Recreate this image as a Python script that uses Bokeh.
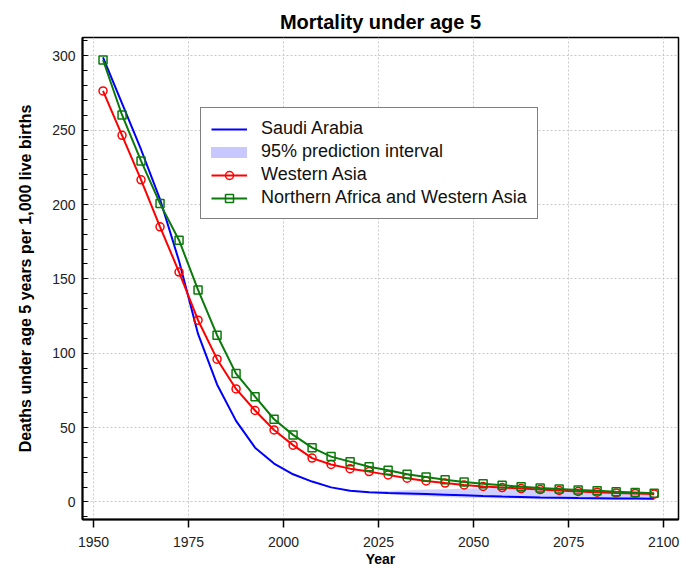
from bokeh.plotting import figure
from bokeh.models import (Range1d, SingleIntervalTicker, FixedTicker, Legend,
                          LegendItem)
from bokeh.embed import file_html
from bokeh.resources import INLINE

# ---------------- data ----------------
years = [1952.5, 1957.5, 1962.5, 1967.5, 1972.5, 1977.5, 1982.5, 1987.5,
         1992.5, 1997.5, 2002.5, 2007.5, 2012.5, 2017.5, 2022.5, 2027.5,
         2032.5, 2037.5, 2042.5, 2047.5, 2052.5, 2057.5, 2062.5, 2067.5,
         2072.5, 2077.5, 2082.5, 2087.5, 2092.5, 2097.5]

saudi_arabia = [299.0, 268.0, 237.0, 203.5, 162.0, 113.0, 79.0, 54.5,
                36.5, 25.8, 18.6, 13.7, 9.8, 7.6, 6.6, 6.1,
                5.7, 5.3, 4.9, 4.5, 4.0, 3.6, 3.3, 3.0,
                2.8, 2.6, 2.5, 2.4, 2.3, 2.2]

western_asia = [276.4, 246.5, 216.6, 185.0, 154.6, 122.2, 96.0, 76.0,
                61.5, 48.4, 38.2, 29.5, 25.2, 22.4, 20.4, 18.2,
                16.0, 14.1, 12.7, 11.4, 10.4, 9.7, 9.0, 8.3,
                7.7, 7.1, 6.6, 6.1, 5.7, 5.3]

n_africa_w_asia = [297.2, 260.2, 229.3, 200.6, 176.0, 142.6, 112.1, 86.3,
                   70.8, 55.6, 45.1, 36.5, 30.5, 27.1, 23.7, 21.3,
                   18.6, 16.8, 15.0, 13.4, 12.3, 11.3, 10.2, 9.3,
                   8.7, 8.1, 7.5, 6.8, 6.4, 5.8]

pi_years = [2022.5, 2027.5, 2032.5, 2037.5, 2042.5, 2047.5, 2052.5, 2057.5,
            2062.5, 2067.5, 2072.5, 2077.5, 2082.5, 2087.5, 2092.5, 2097.5]
pi_upper = [6.6, 7.3, 7.9, 8.3, 8.6, 9.0, 9.3, 9.3,
            9.0, 8.6, 8.2, 7.8, 7.3, 6.9, 6.5, 6.1]
pi_lower = [6.6, 5.2, 4.4, 3.8, 3.3, 2.9, 2.6, 2.3,
            2.1, 1.9, 1.8, 1.7, 1.6, 1.5, 1.4, 1.3]

x_ticks = [1950, 1975, 2000, 2025, 2050, 2075, 2100]

title_text = "Mortality under age 5"
x_label = "Year"
y_label = "Deaths under age 5 years per 1,000 live births"
labels = ["Saudi Arabia", "95% prediction interval", "Western Asia",
          "Northern Africa and Western Asia"]

FONT = "Liberation Sans"
X0, X1 = 1947.1, 2103.9

# ---------------- figure ----------------
p = figure(width=697, height=569, output_backend="svg", toolbar_location=None,
           x_range=Range1d(X0, X1), y_range=Range1d(-11.8, 312.3),
           min_border_left=82, min_border_right=19, min_border_top=37,
           min_border_bottom=50, title=title_text)

p.title.align = "center"
p.title.text_font = FONT
p.title.text_font_size = "20px"
p.title.text_font_style = "bold"
p.title.text_color = "black"
p.title.standoff = 9

p.outline_line_color = "black"
p.outline_line_width = 1.5
p.background_fill_color = "white"
p.border_fill_color = "white"

# axes
xa = p.xaxis[0]
xa.ticker = FixedTicker(ticks=x_ticks)
xa.major_tick_out = 8
xa.major_tick_in = 0
xa.minor_tick_out = 0
xa.minor_tick_in = 0
xa.axis_line_width = 2
xa.axis_line_color = "black"
xa.major_tick_line_color = "black"
xa.major_tick_line_width = 1.5
xa.major_label_text_font = FONT
xa.major_label_text_font_size = "14px"
xa.major_label_text_color = "#222222"
xa.major_label_standoff = 9
xa.axis_label = x_label
xa.axis_label_text_font = FONT
xa.axis_label_text_font_size = "14px"
xa.axis_label_text_font_style = "bold"
xa.axis_label_text_color = "black"
xa.axis_label_standoff = 1

ya = p.yaxis[0]
ya.ticker = SingleIntervalTicker(interval=50, num_minor_ticks=5)
ya.major_tick_in = 6
ya.major_tick_out = 0
ya.major_tick_line_dash = "2 2"
ya.major_tick_line_color = "#444444"
ya.minor_tick_in = 5
ya.minor_tick_out = 0
ya.minor_tick_line_color = "black"
ya.minor_tick_line_width = 1
ya.axis_line_width = 2
ya.axis_line_color = "black"
ya.major_label_text_font = FONT
ya.major_label_text_font_size = "14px"
ya.major_label_text_color = "#222222"
ya.major_label_standoff = 7
ya.axis_label = y_label
ya.axis_label_text_font = FONT
ya.axis_label_text_font_size = "16px"
ya.axis_label_text_font_style = "bold"
ya.axis_label_text_color = "black"
ya.axis_label_standoff = 15

for g in (p.xgrid[0], p.ygrid[0]):
    g.grid_line_color = "#c8c8c8"
    g.grid_line_dash = "2 2"
    g.grid_line_width = 1

# ---------------- glyphs ----------------
band = p.varea(x=pi_years, y1=pi_lower, y2=pi_upper,
               fill_color="#c8c8ff", fill_alpha=0.85)

blue = p.line(years, saudi_arabia, line_color="#0000ff", line_width=2)

red_l = p.line(years, western_asia, line_color="#ff0000", line_width=2)
red_m = p.scatter(years, western_asia, marker="circle", size=8,
                  line_color="#ff0000", fill_color=None, line_width=1.5)

green_l = p.line(years, n_africa_w_asia, line_color="#0a7a0a", line_width=2)
green_m = p.scatter(years, n_africa_w_asia, marker="square", size=8,
                    line_color="#0a7a0a", fill_color=None, line_width=1.5)

# legend proxy for the band (thick rounded light-blue stroke), draws nothing
nan = float("nan")
band_proxy = p.line(x=[nan], y=[nan], line_color="#c8c8ff", line_width=11,
                    line_cap="round")

legend = Legend(items=[
    LegendItem(label=labels[0], renderers=[blue]),
    LegendItem(label=labels[1], renderers=[band_proxy]),
    LegendItem(label=labels[2], renderers=[red_l, red_m]),
    LegendItem(label=labels[3], renderers=[green_l, green_m]),
], location=(118, 300), padding=10, spacing=2, margin=0,
    glyph_width=36, glyph_height=20, label_standoff=14,
    label_text_font=FONT, label_text_font_size="18px",
    label_text_color="#111111",
    border_line_color="black", border_line_width=1,
    background_fill_color="white", background_fill_alpha=1)
p.add_layout(legend)

open("out.html", "w").write(file_html(p, INLINE))
